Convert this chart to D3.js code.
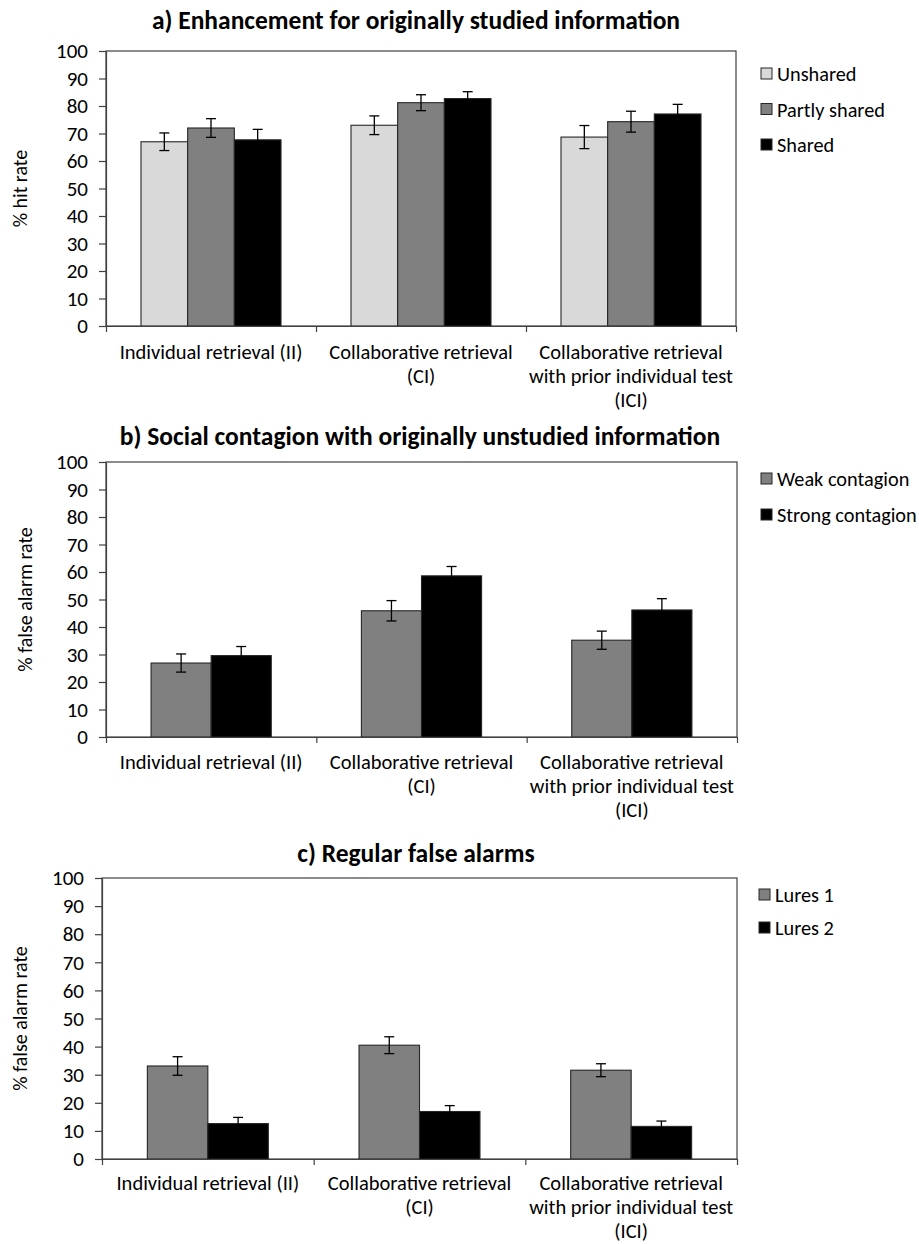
<!DOCTYPE html>
<html><head><meta charset="utf-8">
<script src="https://cdn.jsdelivr.net/npm/d3@7"></script>
<style>
body{margin:0;background:#fff;}
svg text{font-family:Carlito,Lato,"Open Sans",sans-serif;fill:#000;}
</style></head>
<body><svg id="c" width="919" height="1244"></svg>
<script>
// ---- data ----
const categories = [
  ["Individual retrieval (II)"],
  ["Collaborative retrieval", "(CI)"],
  ["Collaborative retrieval", "with prior individual test", "(ICI)"]
];
const yTicks = [0,10,20,30,40,50,60,70,80,90,100];

const seriesA = ["Unshared", "Partly shared", "Shared"];
const valuesA = [[67.0, 73.0, 68.7], [72.0, 81.2, 74.3], [67.7, 82.7, 77.1]];
const errorsA = [[3.2, 3.4, 4.2], [3.4, 2.9, 3.8], [3.8, 2.5, 3.5]];

const seriesB = ["Weak contagion", "Strong contagion"];
const valuesB = [[26.9, 45.9, 35.2], [29.6, 58.6, 46.2]];
const errorsB = [[3.3, 3.7, 3.3], [3.3, 3.4, 4.1]];

const seriesC = ["Lures 1", "Lures 2"];
const valuesC = [[33.1, 40.5, 31.6], [12.6, 16.9, 11.6]];
const errorsC = [[3.3, 3.0, 2.3], [2.2, 2.1, 1.9]];

const titles = [
  "a) Enhancement for originally studied information",
  "b) Social contagion with originally unstudied information",
  "c) Regular false alarms"
];
const yTitles = ["% hit rate", "% false alarm rate", "% false alarm rate"];
const colorsA = ["#d9d9d9", "#808080", "#000000"];
const colorsBC = ["#808080", "#000000"];

// ---- layout ----
const svg = d3.select("#c");
const FS = 21, FS_CAT = 20.5, FS_LEG = 20.3, FS_YT = 20, FS_T = 25.5;

function panel(cfg) {
  const g = svg.append("g");
  const {L, R, T, B} = cfg;
  const catKeys = categories.map((d,i)=>i);
  const x0 = d3.scaleBand().domain(catKeys).range([L, R]).paddingInner(0).paddingOuter(0);
  const sKeys = cfg.series.map((d,i)=>i);
  const x1 = d3.scaleBand().domain(sKeys).range([0, x0.bandwidth()]).paddingInner(0).paddingOuter(0.75);
  const y = d3.scaleLinear().domain([0,100]).range([B, T]);

  // frame
  g.append("rect").attr("x", L).attr("y", T).attr("width", R-L).attr("height", B-T)
    .attr("fill","none").attr("stroke","#404040").attr("stroke-width",1.2);

  // bars
  const bars = [];
  cfg.series.forEach((s, si) => {
    catKeys.forEach(ci => {
      bars.push({si, ci, v: cfg.values[si][ci], e: cfg.errors[si][ci]});
    });
  });
  g.selectAll("rect.bar").data(bars).enter().append("rect").attr("class","bar")
    .attr("x", d => x0(d.ci) + x1(d.si))
    .attr("y", d => y(d.v))
    .attr("width", x1.bandwidth())
    .attr("height", d => y(0) - y(d.v))
    .attr("fill", d => cfg.colors[d.si])
    .attr("stroke", "#262626").attr("stroke-width", 1.1);

  // error bars
  const eg = g.selectAll("g.err").data(bars).enter().append("g").attr("class","err")
    .attr("stroke", "#000").attr("stroke-width", 1.3);
  const cx = d => x0(d.ci) + x1(d.si) + x1.bandwidth()/2;
  eg.append("line").attr("x1", cx).attr("x2", cx).attr("y1", d=>y(d.v+d.e)).attr("y2", d=>y(d.v-d.e));
  eg.append("line").attr("x1", d=>cx(d)-5).attr("x2", d=>cx(d)+5).attr("y1", d=>y(d.v+d.e)).attr("y2", d=>y(d.v+d.e));
  eg.append("line").attr("x1", d=>cx(d)-5).attr("x2", d=>cx(d)+5).attr("y1", d=>y(d.v-d.e)).attr("y2", d=>y(d.v-d.e));

  // y axis
  const ya = g.append("g").attr("transform", `translate(${L},0)`)
    .call(d3.axisLeft(y).tickValues(yTicks).tickSize(7).tickSizeOuter(0).tickPadding(11).tickFormat(d3.format("d")));
  ya.select(".domain").attr("stroke","#404040").attr("stroke-width",1.2);
  ya.selectAll(".tick line").attr("stroke","#404040").attr("stroke-width",1.2);
  ya.selectAll(".tick text").style("font-size", FS+"px").attr("fill","#000");

  // x axis (ticks at category boundaries)
  const bounds = catKeys.map(ci => x0(ci)).concat([R]);
  const xb = d3.scaleLinear().domain([L, R]).range([L, R]);
  const xa = g.append("g").attr("transform", `translate(0,${B})`)
    .call(d3.axisBottom(xb).tickValues(bounds).tickSize(6).tickSizeOuter(0).tickFormat(""));
  xa.select(".domain").attr("stroke","#404040").attr("stroke-width",1.2);
  xa.selectAll(".tick line").attr("stroke","#404040").attr("stroke-width",1.2);

  // category labels
  catKeys.forEach(ci => {
    const t = g.append("text").attr("text-anchor","middle").style("font-size", FS_CAT+"px")
      .attr("x", x0(ci) + x0.bandwidth()/2).attr("y", B + cfg.labOff);
    categories[ci].forEach((line, li) => {
      t.append("tspan").attr("x", x0(ci) + x0.bandwidth()/2).attr("dy", li === 0 ? 0 : cfg.labStep).text(line);
    });
  });

  // title
  g.append("text").attr("text-anchor","middle").attr("x", cfg.titleX).attr("y", cfg.titleY)
    .style("font-size", FS_T+"px").style("font-weight","bold").text(cfg.title);

  // y title
  g.append("text").attr("text-anchor","middle")
    .attr("transform", `translate(${cfg.yTitleX},${(T+B)/2}) rotate(-90)`)
    .style("font-size", FS_YT+"px").text(cfg.yTitle);

  // legend
  const lg = g.selectAll("g.leg").data(cfg.series).enter().append("g").attr("class","leg")
    .attr("transform", (d,i) => `translate(${cfg.legX},${cfg.legY + i*cfg.legStep})`);
  lg.append("rect").attr("x",0).attr("y",-6).attr("width",11).attr("height",11)
    .attr("fill",(d,i)=>cfg.colors[i]).attr("stroke","#262626").attr("stroke-width",1);
  lg.append("text").attr("x",16).attr("y",0).attr("dy","0.35em").style("font-size", FS_LEG+"px").text(d=>d);
}

panel({L:106, R:736, T:51, B:326, series:seriesA, values:valuesA, errors:errorsA, colors:colorsA,
  title:titles[0], titleX:416, titleY:29, yTitle:yTitles[0], yTitleX:27,
  legX:761, legY:74, legStep:35.5, labOff:33, labStep:24});
panel({L:106, R:737, T:462, B:737, series:seriesB, values:valuesB, errors:errorsB, colors:colorsBC,
  title:titles[1], titleX:420, titleY:445, yTitle:yTitles[1], yTitleX:32,
  legX:761, legY:479, legStep:36, labOff:32, labStep:24});
panel({L:102, R:737, T:878, B:1159, series:seriesC, values:valuesC, errors:errorsC, colors:colorsBC,
  title:titles[2], titleX:416, titleY:862, yTitle:yTitles[2], yTitleX:27,
  legX:759, legY:895, legStep:33, labOff:31, labStep:24});
</script></body></html>
